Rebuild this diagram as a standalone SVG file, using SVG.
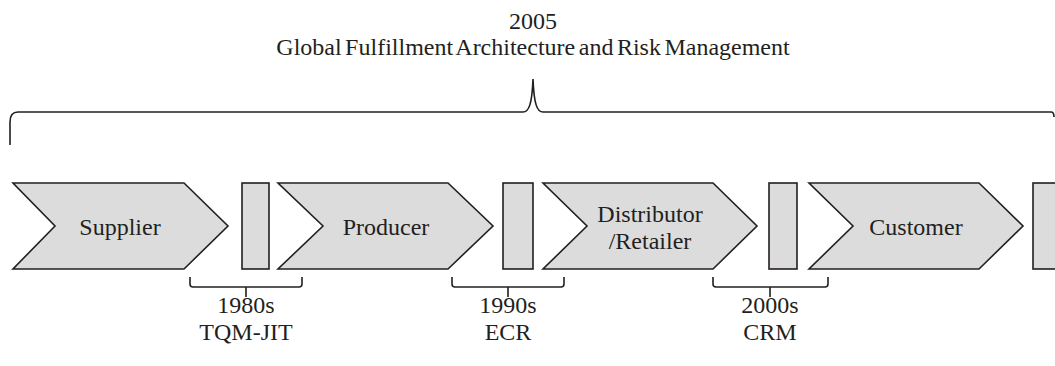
<svg xmlns="http://www.w3.org/2000/svg" width="1055" height="366" viewBox="0 0 1055 366">
<style>
.shape{fill:#dcdcdd;stroke:#231f20;stroke-width:1.6;stroke-linejoin:miter}
.br{fill:none;stroke:#231f20;stroke-width:1.6}
text{font-family:"Liberation Serif","Times New Roman",serif;font-size:24px;fill:#231f20;text-anchor:middle}
</style>
<rect width="1055" height="366" fill="#ffffff"/>
<g id="title">
<text x="533" y="29">2005</text>
<text x="533" y="55" word-spacing="-2.5">Global Fulfillment Architecture and Risk Management</text>
</g>
<g id="supplier">
<polygon class="shape" points="13,183 184,183 228,226 184,269 13,269 55,226"/>
<text x="120" y="235">Supplier</text>
</g>
<g id="gap1"><rect class="shape" x="242" y="183" width="27" height="86"/></g>
<g id="producer">
<polygon class="shape" points="278,183 448,183 493,226 448,269 278,269 323,226"/>
<text x="386" y="235">Producer</text>
</g>
<g id="gap2"><rect class="shape" x="503" y="183" width="30" height="86"/></g>
<g id="distributor">
<polygon class="shape" points="543,183 713,183 757,226 713,269 543,269 587,226"/>
<text x="650" y="222">Distributor</text>
<text x="650" y="249">/Retailer</text>
</g>
<g id="gap3"><rect class="shape" x="769" y="183" width="28" height="86"/></g>
<g id="customer">
<polygon class="shape" points="809,183 979,183 1023,226 979,269 809,269 853,226"/>
<text x="916" y="235">Customer</text>
</g>
<g id="gap4"><rect class="shape" x="1033" y="183" width="30" height="86"/></g>
<g id="connectors">
<path class="br" d="M10,145 L10,122 Q10,112 18,112 L523,112 C529,112 532,104 533,79 C534,104 537,112 543,112 L1051,112 Q1054,112 1054,117"/>
<path class="br" d="M190,277 L190,284 Q190,287 193,287 L299,287 Q302,287 302,284 L302,277 M246,287 L246,297"/>
<path class="br" d="M452,277 L452,284 Q452,287 455,287 L561,287 Q564,287 564,284 L564,277 M508,287 L508,297"/>
<path class="br" d="M713,277 L713,284 Q713,287 716,287 L825,287 Q828,287 828,284 L828,277 M770,287 L770,297"/>
</g>
<g id="labels">
<text x="246" y="313">1980s</text>
<text x="246" y="340">TQM-JIT</text>
<text x="508" y="313">1990s</text>
<text x="508" y="340">ECR</text>
<text x="770" y="313">2000s</text>
<text x="770" y="340">CRM</text>
</g>
</svg>
